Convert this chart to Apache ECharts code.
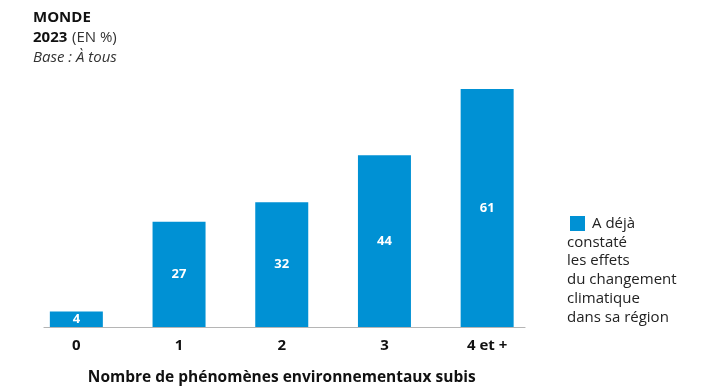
<!DOCTYPE html>
<html>
<head>
<meta charset="utf-8">
<script src="https://cdn.jsdelivr.net/npm/echarts@6/dist/echarts.min.js"></script>
<style>
  html, body { margin: 0; padding: 0; background: #fff; }
  #chart { width: 718px; height: 387px; }
</style>
</head>
<body>
<div id="chart"></div>
<script>
// Number of environmental phenomena experienced (categories)
const categories = ['0', '1', '2', '3', '4 et +'];
// Share who have already noticed climate change effects in their region (%)
const values = [4, 27, 32, 44, 61];
const seriesName = 'A déjà';
const legendRest = 'constaté\nles effets\ndu changement\nclimatique\ndans sa région';

const FONT = '"Open Sans", "Noto Sans", sans-serif';
const BLUE = '#0091d4';

const chart = echarts.init(document.getElementById('chart'), null, { renderer: 'canvas' });

chart.setOption({
  animation: false,
  textStyle: { fontFamily: FONT },
  title: {
    left: 33,
    top: 8,
    padding: 0,
    text: '{b|MONDE}\n{b|2023} {n|(EN %)}\n{i|Base : À tous}',
    textStyle: {
      rich: {
        b: { fontFamily: FONT, fontWeight: 'bold', fontSize: 15, color: '#111', lineHeight: 20 },
        n: { fontFamily: FONT, fontWeight: 'normal', fontSize: 15, color: '#333', lineHeight: 20 },
        i: { fontFamily: FONT, fontWeight: 'normal', fontStyle: 'italic', fontSize: 15, color: '#333', lineHeight: 20 }
      }
    }
  },
  legend: {
    left: 565,
    top: 211,
    itemWidth: 15,
    itemHeight: 15,
    itemGap: 0,
    icon: 'rect',
    textStyle: { fontFamily: FONT, fontSize: 15, color: '#222', padding: [0, 0, 0, 2] },
    data: [seriesName]
  },
  graphic: [{
    type: 'text',
    left: 567,
    top: 233,
    style: {
      text: legendRest,
      fontFamily: FONT,
      fontSize: 15,
      lineHeight: 18.8,
      fill: '#222'
    }
  }],
  grid: [
    { left: 25, top: 89, width: 513.5, bottom: 60, outerBoundsMode: 'none', containLabel: false },
    { left: 44, top: 89, width: 481, bottom: 60, outerBoundsMode: 'none', containLabel: false }
  ],
  xAxis: [
    {
      gridIndex: 0,
      type: 'category',
      data: categories,
      axisLine: { show: false },
      axisTick: { show: false },
      axisLabel: { fontFamily: FONT, fontWeight: 'bold', fontSize: 15, color: '#111', margin: 11 },
      name: 'Nombre de phénomènes environnementaux subis',
      nameLocation: 'middle',
      nameGap: 43,
      nameTextStyle: { fontFamily: FONT, fontWeight: 'bold', fontSize: 15.5, color: '#111' }
    },
    {
      gridIndex: 1,
      type: 'category',
      data: [],
      axisLine: { show: true, lineStyle: { color: '#b5b5b5', width: 1.2 } },
      axisTick: { show: false },
      axisLabel: { show: false }
    }
  ],
  yAxis: [
    { gridIndex: 0, type: 'value', min: 0, max: 61, show: false, splitLine: { show: false } },
    { gridIndex: 1, type: 'value', min: 0, max: 61, show: false, splitLine: { show: false } }
  ],
  series: [{
    name: seriesName,
    type: 'bar',
    xAxisIndex: 0,
    yAxisIndex: 0,
    data: values,
    barWidth: 53,
    itemStyle: { color: BLUE },
    label: {
      show: true,
      position: 'inside',
      fontFamily: FONT,
      fontWeight: 'bold',
      fontSize: 13,
      color: '#fff'
    }
  }]
});
</script>
</body>
</html>
